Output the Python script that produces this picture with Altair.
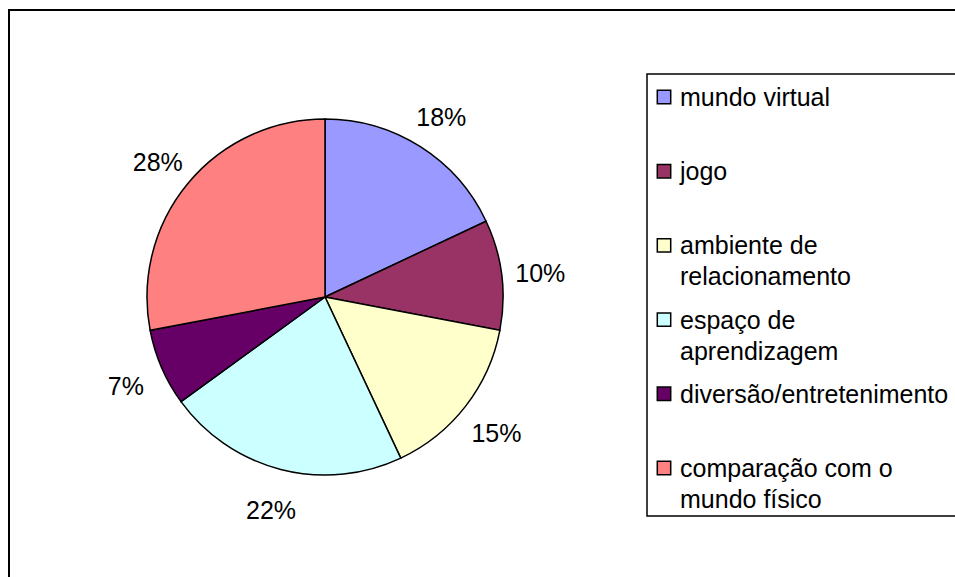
import altair as alt
import pandas as pd

categories = [
    "mundo virtual",
    "jogo",
    "ambiente de relacionamento",
    "espaço de aprendizagem",
    "diversão/entretenimento",
    "comparação com o mundo físico",
]
legend_labels = [
    "mundo virtual",
    "jogo",
    "ambiente de\nrelacionamento",
    "espaço de\naprendizagem",
    "diversão/entretenimento",
    "comparação com o\nmundo físico",
]
percent = [18, 10, 15, 22, 7, 28]
colors = ["#9999FF", "#993366", "#FFFFCC", "#CCFFFF", "#660066", "#FF8080"]

df = pd.DataFrame({
    "cat": categories,
    "label": legend_labels,
    "pct": percent,
    "idx": list(range(len(categories))),
})

FONT = "Liberation Sans"
W, H = 946, 567
CX, CY = 316, 287
R = 178

color = alt.Color("cat:N", scale=alt.Scale(domain=categories, range=colors), legend=None)

base = alt.Chart(df)

pie = base.mark_arc(stroke="black", strokeWidth=1.5, radius=R).encode(
    theta=alt.Theta("pct:Q", stack=True),
    order=alt.Order("idx:Q"),
    color=color,
    x=alt.value(CX),
    y=alt.value(CY),
)

pie_labels = base.mark_text(radius=217, dy=4, font=FONT, fontSize=25, color="black").encode(
    theta=alt.Theta("pct:Q", stack=True),
    order=alt.Order("idx:Q"),
    text=alt.Text("pct_label:N"),
    x=alt.value(CX),
    y=alt.value(CY),
).transform_calculate(pct_label="datum.pct + '%'")

frame_df = pd.DataFrame({"a": [0]})
outer = alt.Chart(frame_df).mark_rect(fillOpacity=0, stroke="black", strokeWidth=2).encode(
    x=alt.value(0), x2=alt.value(1200), y=alt.value(0), y2=alt.value(900)
)
legend_box = alt.Chart(frame_df).mark_rect(fill="white", stroke="black", strokeWidth=1.5).encode(
    x=alt.value(638), x2=alt.value(1200), y=alt.value(64), y2=alt.value(506)
)

yscale = alt.Scale(domain=categories, range=[87, 458], padding=0)

leg_sym = base.mark_point(shape="square", filled=True, size=180, stroke="black", strokeWidth=1.5, opacity=1).encode(
    x=alt.value(655),
    y=alt.Y("cat:N", sort=categories, scale=yscale, axis=None),
    fill=alt.Fill("cat:N", scale=alt.Scale(domain=categories, range=colors), legend=None),
)

leg_txt = base.mark_text(
    align="left", baseline="alphabetic", font=FONT, fontSize=25, lineBreak="\n",
    lineHeight=31, dy=9, color="black",
).encode(
    x=alt.value(671),
    y=alt.Y("cat:N", sort=categories, scale=yscale, axis=None),
    text="label:N",
)

chart = alt.layer(outer, pie, pie_labels, legend_box, leg_sym, leg_txt).properties(
    width=W, height=H,
    padding={"left": 9, "top": 10, "right": 0, "bottom": 0},
    autosize=alt.AutoSizeParams(type="none"),
    background="white",
).configure_view(stroke=None)

chart.save("out.html", embed_options={"renderer": "svg", "actions": False})
